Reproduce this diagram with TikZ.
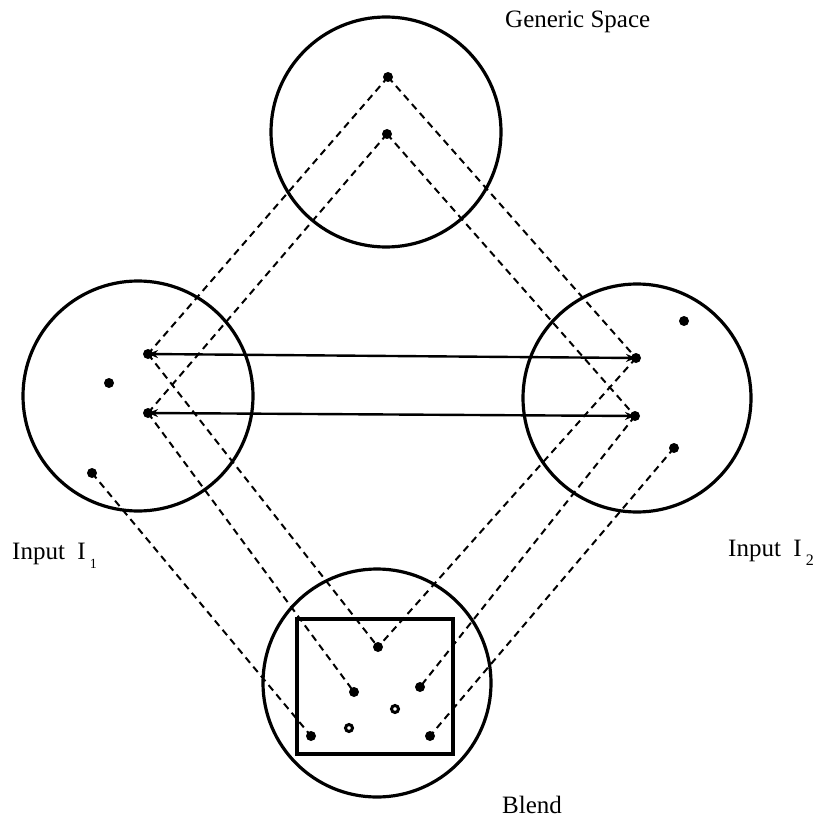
\documentclass[tikz,border=0pt]{standalone}
\usepackage{fontspec}
\setmainfont{Liberation Serif}
\usetikzlibrary{arrows.meta}
\begin{document}
\begin{tikzpicture}[x=1pt,y=-1pt,
  space/.style={circle,draw,line width=3.2pt,inner sep=0pt},
  dot/.style={circle,fill=black,inner sep=0pt,minimum size=10pt},
  ring/.style={circle,draw=black,line width=3pt,fill=white,inner sep=0pt,minimum size=7pt},
  map/.style={line width=2pt,dash pattern=on 7pt off 5pt},
  link/.style={line width=2.4pt,{Stealth[length=10pt,width=8pt]}-{Stealth[length=10pt,width=8pt]}},
  lbl/.style={font=\fontsize{25}{28}\selectfont,inner sep=0pt,anchor=base west}]
\useasboundingbox (0,0) rectangle (816,818);
% spaces
\node[space,minimum size=230pt] (G) at (386,132) {};
\node[space,minimum size=230pt] (I1) at (138,396) {};
\node[space,minimum size=228pt] (I2) at (637,398) {};
\node[space,minimum size=228pt] (B) at (377,683) {};
\node[draw,line width=3.2pt,minimum width=156pt,minimum height=135pt,inner sep=0pt] (sq) at (375,686.5) {};
% dots
\node[dot] (g1) at (388,77) {};
\node[dot] (g2) at (387,134) {};
\node[dot] (a1) at (148,354) {};
\node[dot] (a2) at (148,413) {};
\node[dot] (a3) at (109,383) {};
\node[dot] (a4) at (92,473) {};
\node[dot] (b1) at (636,358) {};
\node[dot] (b2) at (635,416) {};
\node[dot] (b3) at (684,321) {};
\node[dot] (b4) at (674,448) {};
\node[dot] (x1) at (378,647) {};
\node[dot] (x2) at (354,692) {};
\node[dot] (x3) at (420,687) {};
\node[ring] (x4) at (395,709) {};
\node[ring] (x5) at (349,728) {};
\node[dot] (x6) at (311,736) {};
\node[dot] (x7) at (430,736) {};
% dashed mappings
\draw[map] (g1.center) -- (a1.center);
\draw[map] (g2.center) -- (a2.center);
\draw[map] (g1.center) -- (b1.center);
\draw[map] (g2.center) -- (b2.center);
\draw[map] (a1.center) -- (x1.center);
\draw[map] (a2.center) -- (x2.center);
\draw[map] (a4.center) -- (x6.center);
\draw[map] (b1.center) -- (x1.center);
\draw[map] (b2.center) -- (x3.center);
\draw[map] (b4.center) -- (x7.center);
% cross-space links
\draw[link] (a1.center) -- (b1.center);
\draw[link] (a2.center) -- (b2.center);
% labels
\node[lbl] (tG) at (505,28) {Generic Space};
\node[lbl] (t1) at (12,559) {Input\ \ I\,\raisebox{-9pt}{\fontsize{14}{14}\selectfont 1}};
\node[lbl] (t2) at (728,556) {Input\ \ I\,\raisebox{-9pt}{\fontsize{16}{16}\selectfont 2}};
\node[lbl] (tB) at (502,813) {Blend};
\end{tikzpicture}
\end{document}
